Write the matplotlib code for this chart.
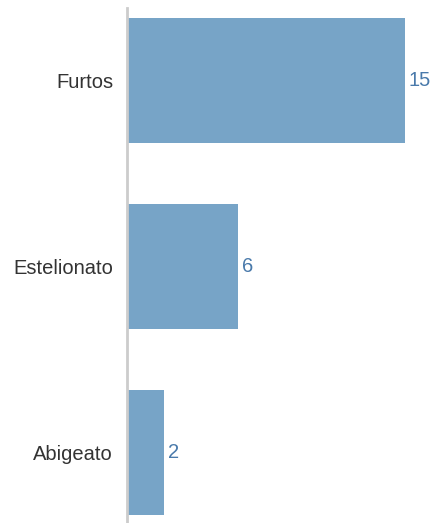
import matplotlib.pyplot as plt

# dados
categorias = ['Furtos', 'Estelionato', 'Abigeato']
valores = [15, 6, 2]

plt.rcParams['font.family'] = ['Liberation Sans', 'DejaVu Sans']

fig = plt.figure(figsize=(4.35, 5.23), dpi=100)
ax = fig.add_axes([127 / 435, 0, 306 / 435, 515 / 523])

y = range(len(categorias))
bars = ax.barh(y, valores, height=0.67, color='#77a4c7')

# rótulos de valor
for b, v in zip(bars, valores):
    ax.text(b.get_width() + 0.2, b.get_y() + b.get_height() / 2, str(v),
            va='center', ha='left', fontsize=14.5, color='#4a7aab')

ax.set_yticks(list(y))
ax.set_yticklabels(categorias, fontsize=14.5, color='#333333')
ax.set_ylim(2.38, -0.39)
ax.set_xlim(0, 16.5)

ax.xaxis.set_visible(False)
ax.tick_params(axis='y', length=0, pad=10)
for s in ['top', 'right', 'bottom']:
    ax.spines[s].set_visible(False)
ax.spines['left'].set_color('#cccccc')
ax.spines['left'].set_linewidth(2)

plt.savefig('out.png', dpi=100)
